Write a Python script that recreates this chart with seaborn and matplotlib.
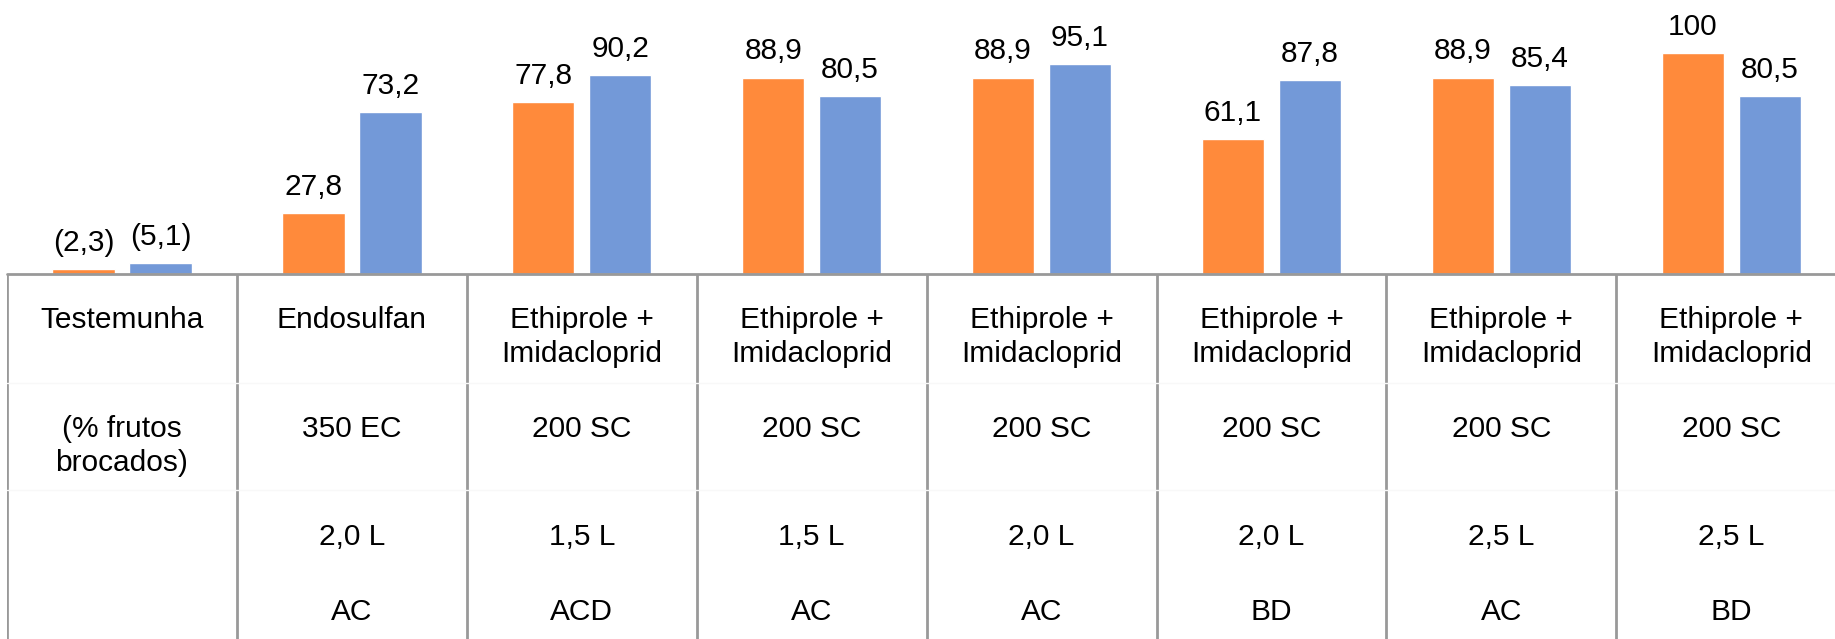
import numpy as np
import pandas as pd
import matplotlib
matplotlib.use('Agg')
import matplotlib.pyplot as plt
import seaborn as sns

# données
tratamentos = ['Testemunha', 'Endosulfan', 'Ethiprole +\nImidacloprid',
               'Ethiprole +\nImidacloprid', 'Ethiprole +\nImidacloprid',
               'Ethiprole +\nImidacloprid', 'Ethiprole +\nImidacloprid',
               'Ethiprole +\nImidacloprid']
formulacao = ['(% frutos\nbrocados)', '350 EC', '200 SC', '200 SC', '200 SC',
              '200 SC', '200 SC', '200 SC']
doses = ['', '2,0 L', '1,5 L', '1,5 L', '2,0 L', '2,0 L', '2,5 L', '2,5 L']
letras = ['', 'AC', 'ACD', 'AC', 'AC', 'BD', 'AC', 'BD']
serie_a = [2.3, 27.8, 77.8, 88.9, 88.9, 61.1, 88.9, 100]
serie_b = [5.1, 73.2, 90.2, 80.5, 95.1, 87.8, 85.4, 80.5]
rotulos_a = ['(2,3)', '27,8', '77,8', '88,9', '88,9', '61,1', '88,9', '100']
rotulos_b = ['(5,1)', '73,2', '90,2', '80,5', '95,1', '87,8', '85,4', '80,5']

cores = ['#FF8A3B', '#7399D8']
cor_linha = '#999999'

n = len(tratamentos)
df = pd.DataFrame({
    'pos': list(range(n)) * 2,
    'valor': serie_a + serie_b,
    'serie': ['A'] * n + ['B'] * n,
})

sns.set_style('white')
plt.rcParams['font.family'] = ['Liberation Sans', 'DejaVu Sans']
fs = 21.5

W, H = 1835, 639
fig = plt.figure(figsize=(W / 100, H / 100), dpi=100)
eixo_y = 274  # px desde o topo
x0 = 7
larg_cat = 229.9
esq = x0 / W
larg = larg_cat * n / W
base = (H - eixo_y) / H
alt_tab = H - eixo_y

ax = fig.add_axes([esq, base, larg, 1 - base])
sns.barplot(data=df, x='pos', y='valor', hue='serie', palette=cores,
            width=0.67, gap=0.19, saturation=1, legend=False, ax=ax)
ax.set_xlim(-0.5, n - 0.5)
ax.set_ylim(0, eixo_y / 2.21)
ax.axis('off')

for cont, rot in zip(ax.containers, [rotulos_a, rotulos_b]):
    for barra, txt in zip(cont, rot):
        ax.annotate(txt, (barra.get_x() + barra.get_width() / 2, barra.get_height()),
                    xytext=(0, 13), textcoords='offset points',
                    ha='center', va='baseline', fontsize=fs, color='black')

# tabela abaixo do eixo
tab = fig.add_axes([esq, 0, larg, base])
tab.set_xlim(-0.5, n - 0.5)
tab.set_ylim(alt_tab, 0)
tab.axis('off')
tab.axhline(0, color=cor_linha, lw=2, clip_on=False)
tab.vlines(np.arange(n) - 0.5, 0, alt_tab, color=cor_linha, lw=2)
for yy in [109, 216]:
    tab.axhline(yy, color='#f8f8f8', lw=1)

linhas_y = [54, 163, 271, 346]  # linha de base, px abaixo do eixo
passo = 34
for i in range(n):
    for col, yy in zip([tratamentos, formulacao, doses, letras], linhas_y):
        for k, parte in enumerate(col[i].split('\n')):
            tab.text(i, yy + k * passo, parte, ha='center', va='baseline',
                     fontsize=fs, color='black')

fig.savefig('out.png', dpi=100)
